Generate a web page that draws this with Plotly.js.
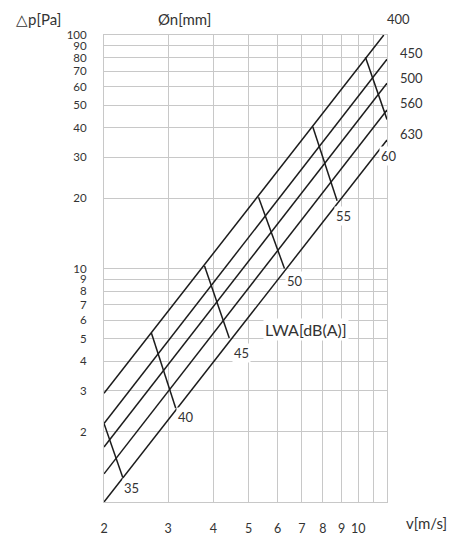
<!DOCTYPE html>
<html><head><meta charset="utf-8">
<script src="https://cdn.plot.ly/plotly-3.0.1.min.js"></script>
<style>html,body{margin:0;padding:0;background:#fff}#chart{width:450px;height:536px}</style>
</head><body><div id="chart"></div>
<script>
// Duct diameter lines (Øn [mm]) : endpoints
const diameters = ['400', '450', '500', '560', '630'];
const diaStartV = [2, 2, 2, 2, 2];
const diaStartP = [2.92, 2.17, 1.72, 1.32, 1.0];
const diaEndV = [11.76, 12, 12, 12, 12];
const diaEndP = [100, 78.7, 62.1, 47.7, 35.5];

// Sound power level lines LWA [dB(A)]
const lwaLevels = ['35', '40', '45', '50', '55', '60'];
const lwaTopV = [2, 2.70, 3.78, 5.32, 7.50, 10.47];
const lwaTopP = [2.17, 5.29, 10.25, 20.2, 40.5, 80.3];
const lwaBotV = [2.25, 3.15, 4.42, 6.27, 8.75, 12];
const lwaBotP = [1.28, 2.52, 5.04, 10.0, 19.5, 43.5];

// Axis ticks
const xGrid = [2, 3, 4, 5, 6, 7, 8, 9, 10, 11, 12];
const xText = ['2', '3', '4', '5', '6', '7', '8', '9', '10', '', ''];
const yGrid = [1, 2, 3, 4, 5, 6, 7, 8, 9, 10, 20, 30, 40, 50, 60, 70, 80, 90, 100];
const yText = ['', '2', '3', '4', '5', '6', '7', '8', '9', '10', '20', '30', '40', '50', '60', '70', '80', '90', '100'];

const W = 450, H = 536, L = 104, R = 63, T = 35, B = 34;
const px = x => (x - L) / (W - L - R);
const py = y => (H - B - y) / (H - T - B);

const traces = [];
diameters.forEach((d, i) => {
  traces.push({x: [diaStartV[i], diaEndV[i]], y: [diaStartP[i], diaEndP[i]], mode: 'lines',
    line: {color: '#1c1c1c', width: 1.5}, hoverinfo: 'skip', showlegend: false, name: d});
});
lwaLevels.forEach((l, i) => {
  traces.push({x: [lwaTopV[i], lwaBotV[i]], y: [lwaTopP[i], lwaBotP[i]], mode: 'lines',
    line: {color: '#1c1c1c', width: 1.5}, hoverinfo: 'skip', showlegend: false, name: l});
});

const txt = '#333333';
const ann = [];
function A(text, x, y, size, bg) {
  ann.push({text: text, xref: 'paper', yref: 'paper', x: px(x), y: py(y), showarrow: false,
    xanchor: 'center', yanchor: 'middle', font: {size: size, color: txt},
    bgcolor: bg ? '#ffffff' : 'rgba(0,0,0,0)', borderpad: 1});
}
A('△p[Pa]', 38, 19, 15);
A('Øn[mm]', 184, 19, 15);
A('v[m/s]', 426, 523, 15);
const diaLabelX = [398, 411, 411, 411, 411];
const diaLabelY = [19, 53, 78, 103, 134];
diameters.forEach((d, i) => A(d, diaLabelX[i], diaLabelY[i], 13));
const lwaLabelX = [131, 186, 241, 295, 343, 389];
const lwaLabelY = [488, 417, 353, 281, 216, 156];
lwaLevels.forEach((l, i) => A(l, lwaLabelX[i], lwaLabelY[i], 13, true));
A('LWA[dB(A)]', 306, 329, 16, true);

const layout = {
  width: W, height: H,
  margin: {l: L, r: R, t: T, b: B, pad: 0},
  paper_bgcolor: '#fff', plot_bgcolor: '#fff',
  font: {family: 'Lato, "Open Sans", sans-serif', size: 12, color: txt},
  xaxis: {type: 'log', range: [Math.log10(2), Math.log10(12)], tickvals: xGrid, ticktext: xText,
    ticks: '', showgrid: true, gridcolor: '#c8c8c8', gridwidth: 1, zeroline: false,
    showline: true, linecolor: '#c8c8c8', linewidth: 1, mirror: true,
    ticklabelstandoff: 15, tickfont: {size: 12.5, color: txt}, fixedrange: true},
  yaxis: {type: 'log', range: [0, 2], tickvals: yGrid, ticktext: yText,
    ticks: '', showgrid: true, gridcolor: '#c8c8c8', gridwidth: 1, zeroline: false,
    showline: true, linecolor: '#c8c8c8', linewidth: 1, mirror: true,
    ticklabelstandoff: 14, tickfont: {size: 11.5, color: txt}, fixedrange: true},
  annotations: ann,
  showlegend: false
};
Plotly.newPlot('chart', traces, layout, {displayModeBar: false, staticPlot: true});
</script></body></html>
